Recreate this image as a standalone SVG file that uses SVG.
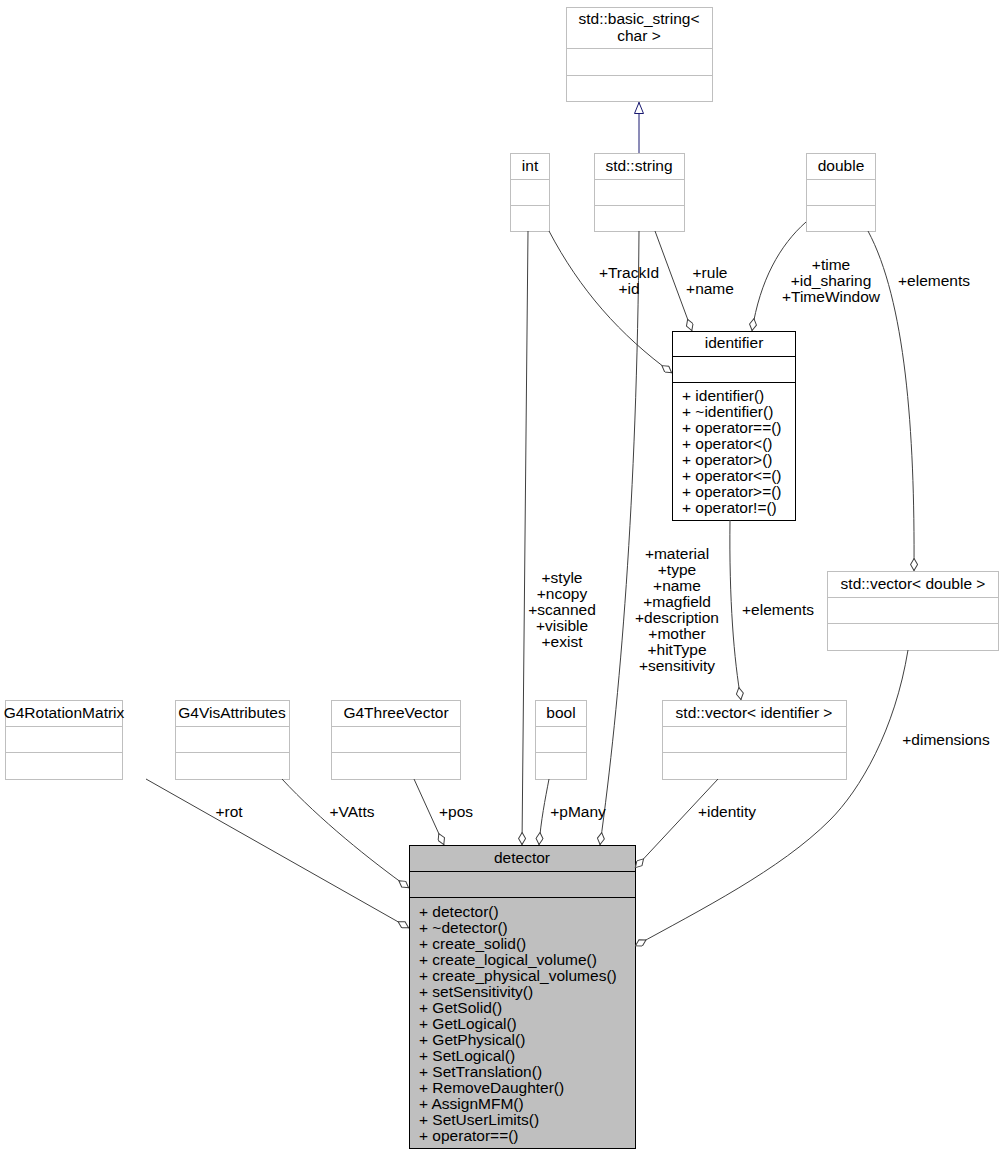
<svg xmlns="http://www.w3.org/2000/svg" width="1004" height="1155" viewBox="0 0 1004 1155">
<defs>
<style>
text{font-family:"Liberation Sans",Arial,sans-serif;font-size:15.5px;fill:#000}
.c{text-anchor:middle}
.g rect,.g line{fill:#fff;stroke:#bfbfbf;stroke-width:1}
.b rect,.b line{fill:#fff;stroke:#000;stroke-width:1}
.d rect{fill:#bfbfbf;stroke:#000;stroke-width:1}
.d line{stroke:#000}
.e{fill:none;stroke:#404040;stroke-width:1}
</style>
<marker id="dia" viewBox="0 0 13 8" refX="13" refY="4" markerWidth="13" markerHeight="8" markerUnits="userSpaceOnUse" orient="auto">
<path d="M0.5,4 L6.5,0.5 L12.5,4 L6.5,7.5 Z" fill="#fff" stroke="#404040"/>
</marker>
<marker id="tri" viewBox="0 0 12 10" refX="12" refY="5" markerWidth="12" markerHeight="10" markerUnits="userSpaceOnUse" orient="auto">
<path d="M0.5,0.5 L11.5,5 L0.5,9.5 Z" fill="#fff" stroke="#191970"/>
</marker>
</defs>
<g id="basic_string" class="g"><rect x="566.5" y="7.5" width="146" height="94"/><line x1="566.5" y1="48.5" x2="712.5" y2="48.5"/><line x1="566.5" y1="75.5" x2="712.5" y2="75.5"/><text class="c" x="639" y="24">std::basic_string&lt;</text><text class="c" x="639" y="41">char &gt;</text></g>
<g id="int" class="g"><rect x="510.5" y="153.5" width="39" height="78"/><line x1="510.5" y1="179.5" x2="549.5" y2="179.5"/><line x1="510.5" y1="205.5" x2="549.5" y2="205.5"/><text class="c" x="530" y="171">int</text></g>
<g id="string" class="g"><rect x="594.5" y="153.5" width="90" height="78"/><line x1="594.5" y1="179.5" x2="684.5" y2="179.5"/><line x1="594.5" y1="205.5" x2="684.5" y2="205.5"/><text class="c" x="639" y="171">std::string</text></g>
<g id="double" class="g"><rect x="806.5" y="153.5" width="69" height="78"/><line x1="806.5" y1="179.5" x2="875.5" y2="179.5"/><line x1="806.5" y1="205.5" x2="875.5" y2="205.5"/><text class="c" x="841" y="171">double</text></g>
<g id="identifier" class="b"><rect x="672.5" y="331.5" width="123" height="189"/><line x1="672.5" y1="356.5" x2="795.5" y2="356.5"/><line x1="672.5" y1="382.5" x2="795.5" y2="382.5"/><text class="c" x="734" y="348">identifier</text>
<text x="682" y="401">+ identifier()</text><text x="682" y="417">+ ~identifier()</text><text x="682" y="433">+ operator==()</text><text x="682" y="449">+ operator&lt;()</text><text x="682" y="465">+ operator&gt;()</text><text x="682" y="481">+ operator&lt;=()</text><text x="682" y="497">+ operator&gt;=()</text><text x="682" y="513">+ operator!=()</text></g>
<g id="vector_double" class="g"><rect x="827.5" y="571.5" width="171" height="79"/><line x1="827.5" y1="597.5" x2="998.5" y2="597.5"/><line x1="827.5" y1="623.5" x2="998.5" y2="623.5"/><text class="c" x="913" y="589">std::vector&lt; double &gt;</text></g>
<g id="G4RotationMatrix" class="g"><rect x="5.5" y="700.5" width="117" height="79"/><line x1="5.5" y1="726.5" x2="122.5" y2="726.5"/><line x1="5.5" y1="752.5" x2="122.5" y2="752.5"/><text class="c" x="64" y="718">G4RotationMatrix</text></g>
<g id="G4VisAttributes" class="g"><rect x="175.5" y="700.5" width="114" height="79"/><line x1="175.5" y1="726.5" x2="289.5" y2="726.5"/><line x1="175.5" y1="752.5" x2="289.5" y2="752.5"/><text class="c" x="232" y="718">G4VisAttributes</text></g>
<g id="G4ThreeVector" class="g"><rect x="331.5" y="700.5" width="129" height="79"/><line x1="331.5" y1="726.5" x2="460.5" y2="726.5"/><line x1="331.5" y1="752.5" x2="460.5" y2="752.5"/><text class="c" x="396" y="718">G4ThreeVector</text></g>
<g id="bool" class="g"><rect x="535.5" y="700.5" width="51" height="79"/><line x1="535.5" y1="726.5" x2="586.5" y2="726.5"/><line x1="535.5" y1="752.5" x2="586.5" y2="752.5"/><text class="c" x="561" y="718">bool</text></g>
<g id="vector_identifier" class="g"><rect x="662.5" y="700.5" width="184" height="79"/><line x1="662.5" y1="726.5" x2="846.5" y2="726.5"/><line x1="662.5" y1="752.5" x2="846.5" y2="752.5"/><text class="c" x="754" y="718">std::vector&lt; identifier &gt;</text></g>
<g id="detector" class="d"><rect x="409.5" y="845.5" width="226" height="303"/><line x1="409.5" y1="871.5" x2="635.5" y2="871.5"/><line x1="409.5" y1="897.5" x2="635.5" y2="897.5"/><text class="c" x="522" y="863">detector</text>
<text x="419" y="917">+ detector()</text><text x="419" y="933">+ ~detector()</text><text x="419" y="949">+ create_solid()</text><text x="419" y="965">+ create_logical_volume()</text><text x="419" y="981">+ create_physical_volumes()</text><text x="419" y="997">+ setSensitivity()</text><text x="419" y="1013">+ GetSolid()</text><text x="419" y="1029">+ GetLogical()</text><text x="419" y="1045">+ GetPhysical()</text><text x="419" y="1061">+ SetLogical()</text><text x="419" y="1077">+ SetTranslation()</text><text x="419" y="1093">+ RemoveDaughter()</text><text x="419" y="1109">+ AssignMFM()</text><text x="419" y="1125">+ SetUserLimits()</text><text x="419" y="1141">+ operator==()</text></g>
<g id="edges">
<path class="e" style="stroke:#191970" d="M639,153 L639,102" marker-end="url(#tri)"/>
<path class="e" d="M549,231 C580,290 620,335 672,373" marker-end="url(#dia)"/>
<path class="e" d="M655,231 L692,331" marker-end="url(#dia)"/>
<path class="e" d="M806,222 C780,245 760,280 752,331" marker-end="url(#dia)"/>
<path class="e" d="M868,231 C905,300 915,430 914,571" marker-end="url(#dia)"/>
<path class="e" d="M908,650 C895,730 860,790 830,820 C780,870 700,910 635,946" marker-end="url(#dia)"/>
<path class="e" d="M528,231 L522,845" marker-end="url(#dia)"/>
<path class="e" d="M639,231 C637,500 620,700 600,845" marker-end="url(#dia)"/>
<path class="e" d="M730,520 C729,600 734,660 741,700" marker-end="url(#dia)"/>
<path class="e" d="M549,779 C545,800 541,820 539,845" marker-end="url(#dia)"/>
<path class="e" d="M718,779 L635,868" marker-end="url(#dia)"/>
<path class="e" d="M414,779 L444,845" marker-end="url(#dia)"/>
<path class="e" d="M282,779 C320,820 370,860 409,888" marker-end="url(#dia)"/>
<path class="e" d="M146,779 L409,928" marker-end="url(#dia)"/>
<text class="c" x="629" y="278">+TrackId</text><text class="c" x="629" y="294">+id</text>
<text class="c" x="710" y="278">+rule</text><text class="c" x="710" y="294">+name</text>
<text class="c" x="831" y="270">+time</text><text class="c" x="831" y="286">+id_sharing</text><text class="c" x="831" y="302">+TimeWindow</text>
<text class="c" x="934" y="286">+elements</text>
<text class="c" x="562" y="583">+style</text><text class="c" x="562" y="599">+ncopy</text><text class="c" x="562" y="615">+scanned</text><text class="c" x="562" y="631">+visible</text><text class="c" x="562" y="647">+exist</text>
<text class="c" x="677" y="559">+material</text><text class="c" x="677" y="575">+type</text><text class="c" x="677" y="591">+name</text><text class="c" x="677" y="607">+magfield</text><text class="c" x="677" y="623">+description</text><text class="c" x="677" y="639">+mother</text><text class="c" x="677" y="655">+hitType</text><text class="c" x="677" y="671">+sensitivity</text>
<text class="c" x="778" y="615">+elements</text>
<text class="c" x="946" y="745">+dimensions</text>
<text class="c" x="229" y="817">+rot</text>
<text class="c" x="352" y="817">+VAtts</text>
<text class="c" x="456" y="817">+pos</text>
<text class="c" x="578" y="817">+pMany</text>
<text class="c" x="727" y="817">+identity</text>
</g>
</svg>
